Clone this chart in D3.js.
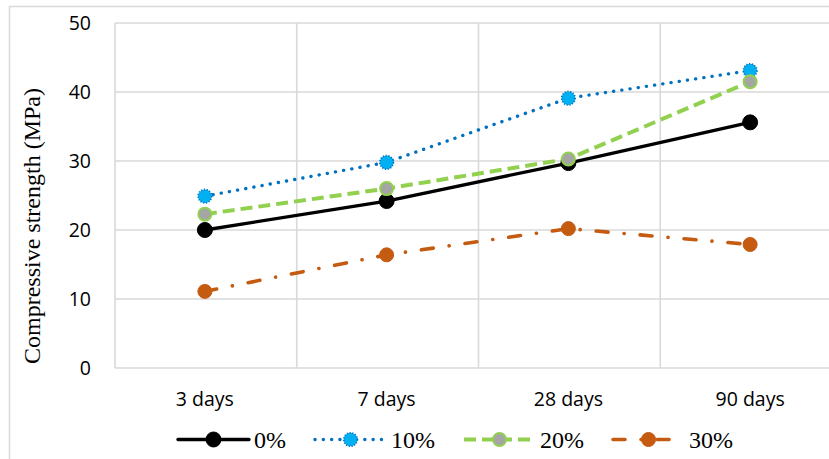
<!DOCTYPE html>
<html>
<head>
<meta charset="utf-8">
<script src="https://cdn.jsdelivr.net/npm/d3@7"></script>
<style>
  html, body { margin: 0; padding: 0; background: #fff; overflow: hidden; }
  svg { display: block; }
  .serif { font-family: "Liberation Serif", "Times New Roman", Times, serif; }
  .sans { font-family: "Open Sans", sans-serif; }
</style>
</head>
<body>
<svg id="chart" width="829" height="459"></svg>
<script>
// Curing ages and compressive strength (MPa) per replacement level
const ages = ["3 days", "7 days", "28 days", "90 days"];
const series0  = [20.0, 24.2, 29.7, 35.6];
const series10 = [24.9, 29.8, 39.1, 43.1];
const series20 = [22.3, 26.0, 30.3, 41.5];
const series30 = [11.1, 16.4, 20.2, 17.9];
const seriesNames = ["0%", "10%", "20%", "30%"];
const yTicks = [0, 10, 20, 30, 40, 50];

const svg = d3.select("#chart");

const plot = { left: 115, right: 842, top: 23, bottom: 368 };

const x = d3.scaleBand().domain(ages).range([plot.left, plot.right]).padding(0);
const y = d3.scaleLinear().domain([0, 50]).range([plot.bottom, plot.top]);
const cx = d => x(d) + x.bandwidth() / 2 - 1;

const grid = "#d9d9d9";

// outer chart frame
svg.append("rect")
  .attr("x", 9.5).attr("y", 6.5)
  .attr("width", 900).attr("height", 500)
  .attr("fill", "none").attr("stroke", grid).attr("stroke-width", 1.5);

// horizontal gridlines
svg.append("g").selectAll("line").data(yTicks).join("line")
  .attr("x1", plot.left).attr("x2", plot.right)
  .attr("y1", d => y(d)).attr("y2", d => y(d))
  .attr("stroke", grid).attr("stroke-width", 1.6);

// vertical gridlines at category boundaries
const bounds = ages.map(a => x(a)).concat([plot.right]);
svg.append("g").selectAll("line").data(bounds).join("line")
  .attr("x1", d => d).attr("x2", d => d)
  .attr("y1", plot.top).attr("y2", plot.bottom)
  .attr("stroke", grid).attr("stroke-width", 1.6);

// y axis labels
const yAxis = d3.axisLeft(y).tickValues(yTicks).tickSize(0).tickPadding(0);
const gy = svg.append("g").attr("transform", `translate(${plot.left - 24},0)`).call(yAxis);
gy.select(".domain").remove();
gy.attr("font-family", null).attr("font-size", null);
gy.selectAll("text")
  .attr("class", "sans")
  .style("font-size", "19.5px").attr("fill", "#000")
  .attr("dy", "0.35em");

// x axis labels
const xAxis = d3.axisBottom(x).tickSize(0).tickPadding(0);
const gx = svg.append("g").attr("transform", `translate(-1,${plot.bottom})`).call(xAxis);
gx.select(".domain").remove();
gx.attr("font-family", null).attr("font-size", null);
gx.selectAll("text")
  .attr("class", "sans")
  .style("font-size", "19.5px").attr("fill", "#000")
  .attr("y", 38).attr("dy", 0);

// y axis title
svg.append("text")
  .attr("class", "serif")
  .attr("transform", "translate(39.5,226) rotate(-90)")
  .attr("text-anchor", "middle")
  .style("font-size", "24px").attr("fill", "#000")
  .text("Compressive strength (MPa)");

// series styling
const styles = [
  { values: series0,  line: "#000000", width: 3.3, dash: null, cap: "round",
    fill: "#000000", mstroke: "#000000", mdash: null, mw: 1, r: 7.5 },
  { values: series10, line: "#0070C0", width: 3.4, dash: "0.1 8.2", cap: "round",
    fill: "#00B0F0", mstroke: "#0070C0", mdash: "1.2 1.6", mw: 1.6, r: 6.8 },
  { values: series20, line: "#92D050", width: 4, dash: "12 6", cap: "butt",
    fill: "#A5A5A5", mstroke: "#92D050", mdash: null, mw: 2, r: 6.5 },
  { values: series30, line: "#C55A11", width: 3.6, dash: "12 16 0.1 16", cap: "round",
    fill: "#C55A11", mstroke: "#C55A11", mdash: null, mw: 1, r: 7 }
];

const lineGen = d3.line().x((d, i) => cx(ages[i])).y(d => y(d));

// lines first, markers on top
styles.forEach(s => {
  svg.append("path")
    .datum(s.values)
    .attr("d", lineGen)
    .attr("fill", "none")
    .attr("stroke", s.line)
    .attr("stroke-width", s.width)
    .attr("stroke-linecap", s.cap)
    .attr("stroke-linejoin", "round")
    .attr("stroke-dasharray", s.dash);
});

function marker(g, s, px, py) {
  g.append("circle")
    .attr("cx", px).attr("cy", py).attr("r", s.r)
    .attr("fill", s.fill)
    .attr("stroke", s.mstroke)
    .attr("stroke-width", s.mw)
    .attr("stroke-dasharray", s.mdash);
}

styles.forEach(s => {
  const g = svg.append("g");
  s.values.forEach((v, i) => marker(g, s, cx(ages[i]), y(v)));
});

// legend
const legendY = 439.5;
const symLen = 71;
let lx = 178;
styles.forEach((s, i) => {
  const g = svg.append("g");
  g.append("line")
    .attr("x1", lx).attr("x2", lx + symLen)
    .attr("y1", legendY).attr("y2", legendY)
    .attr("stroke", s.line)
    .attr("stroke-width", s.width)
    .attr("stroke-linecap", s.cap)
    .attr("stroke-dasharray", s.dash);
  marker(g, s, lx + symLen / 2, legendY);
  const t = g.append("text")
    .attr("class", "serif")
    .attr("x", lx + symLen + 5).attr("y", legendY + 8)
    .style("font-size", "24px").attr("fill", "#000")
    .text(seriesNames[i]);
  lx = lx + symLen + 5 + t.node().getComputedTextLength() + 29;
});
</script>
</body>
</html>
